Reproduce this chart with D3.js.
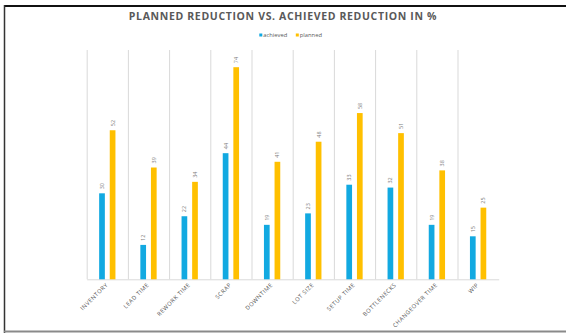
<!DOCTYPE html>
<html><head><meta charset="utf-8">
<script src="https://cdn.jsdelivr.net/npm/d3@7"></script>
<style>
html,body{margin:0;padding:0;background:#fff;}
svg{display:block;font-family:"Open Sans",sans-serif;}
</style></head>
<body><svg id="c" width="566" height="333"></svg>
<script>
const categories = ["INVENTORY","LEAD TIME","REWORK TIME","SCRAP","DOWNTIME","LOT SIZE","SETUP TIME","BOTTLENECKS","CHANGEOVER TIME","WIP"];
const achieved = [30,12,22,44,19,23,33,32,19,15];
const planned = [52,39,34,74,41,48,58,51,38,25];
const seriesNames = ["achieved","planned"];
const colors = ["#12A9E1","#FFC000"];
const yDomain = [0,80];

(function(){
const svg = d3.select("#c");
const pLeft = 86.7, pRight = 498.7, pTop = 50, pBottom = 279.3;

// frame
svg.append("line").attr("x1",4).attr("x2",566).attr("y1",6).attr("y2",6).attr("stroke","#111").attr("stroke-width",2);
svg.append("line").attr("x1",4.5).attr("x2",4.5).attr("y1",5).attr("y2",333).attr("stroke","#333").attr("stroke-width",1.5);
svg.append("line").attr("x1",4).attr("x2",566).attr("y1",331.5).attr("y2",331.5).attr("stroke","#8a8a8a").attr("stroke-width",2);

// title
svg.append("text").attr("x",283).attr("y",20).attr("text-anchor","middle")
  .attr("font-size",10.5).attr("font-weight","bold").attr("fill","#595959").attr("letter-spacing","0.65")
  .text("PLANNED REDUCTION VS. ACHIEVED REDUCTION IN %");

// legend
const legend = svg.append("g").attr("font-size",5.8).attr("fill","#595959");
const legX = [259.3, 295.8];
seriesNames.forEach((n,i)=>{
  legend.append("rect").attr("x",legX[i]).attr("y",33.5).attr("width",3).attr("height",3).attr("fill",colors[i]);
  legend.append("text").attr("x",legX[i]+4).attr("y",37.2).attr("fill","#595959").text(n);
});

const x = d3.scaleBand().domain(categories).range([pLeft,pRight]).padding(0);
const y = d3.scaleLinear().domain(yDomain).range([pBottom,pTop]);

// vertical gridlines at category boundaries
svg.append("g").selectAll("line").data(categories).join("line")
  .attr("x1",d=>x(d)+0.5).attr("x2",d=>x(d)+0.5).attr("y1",pTop).attr("y2",pBottom)
  .attr("stroke","#d9d9d9").attr("stroke-width",1);

// axis
const ax = svg.append("g").attr("transform",`translate(0,${pBottom})`).call(d3.axisBottom(x).tickSize(0).tickFormat(""));
ax.select(".domain").attr("stroke","#d9d9d9").attr("stroke-width",1);

const bw = 5.7, off = 5.3;
const series = [achieved, planned];
series.forEach((vals,si)=>{
  const g = svg.append("g");
  const cx = d => x(categories[d]) + x.bandwidth()/2 + (si===0?-off:off);
  g.selectAll("rect").data(vals.map((v,i)=>i)).join("rect")
    .attr("x",i=>cx(i)-bw/2).attr("width",bw)
    .attr("y",i=>y(vals[i])).attr("height",i=>pBottom-y(vals[i]))
    .attr("fill",colors[si]);
  g.selectAll("text").data(vals.map((v,i)=>i)).join("text")
    .attr("transform",i=>`translate(${cx(i)+2},${y(vals[i])-4}) rotate(-90)`)
    .attr("font-size",5.5).attr("fill","#7f7f7f").attr("text-anchor","start")
    .text(i=>vals[i]);
});

// x labels rotated
svg.append("g").selectAll("text").data(categories).join("text")
  .attr("transform",d=>`translate(${x(d)+x.bandwidth()/2+1},${pBottom+6}) rotate(-45)`)
  .attr("text-anchor","end").attr("font-size",5.8).attr("fill","#595959").attr("letter-spacing","0.5")
  .text(d=>d);
})();
</script></body></html>
